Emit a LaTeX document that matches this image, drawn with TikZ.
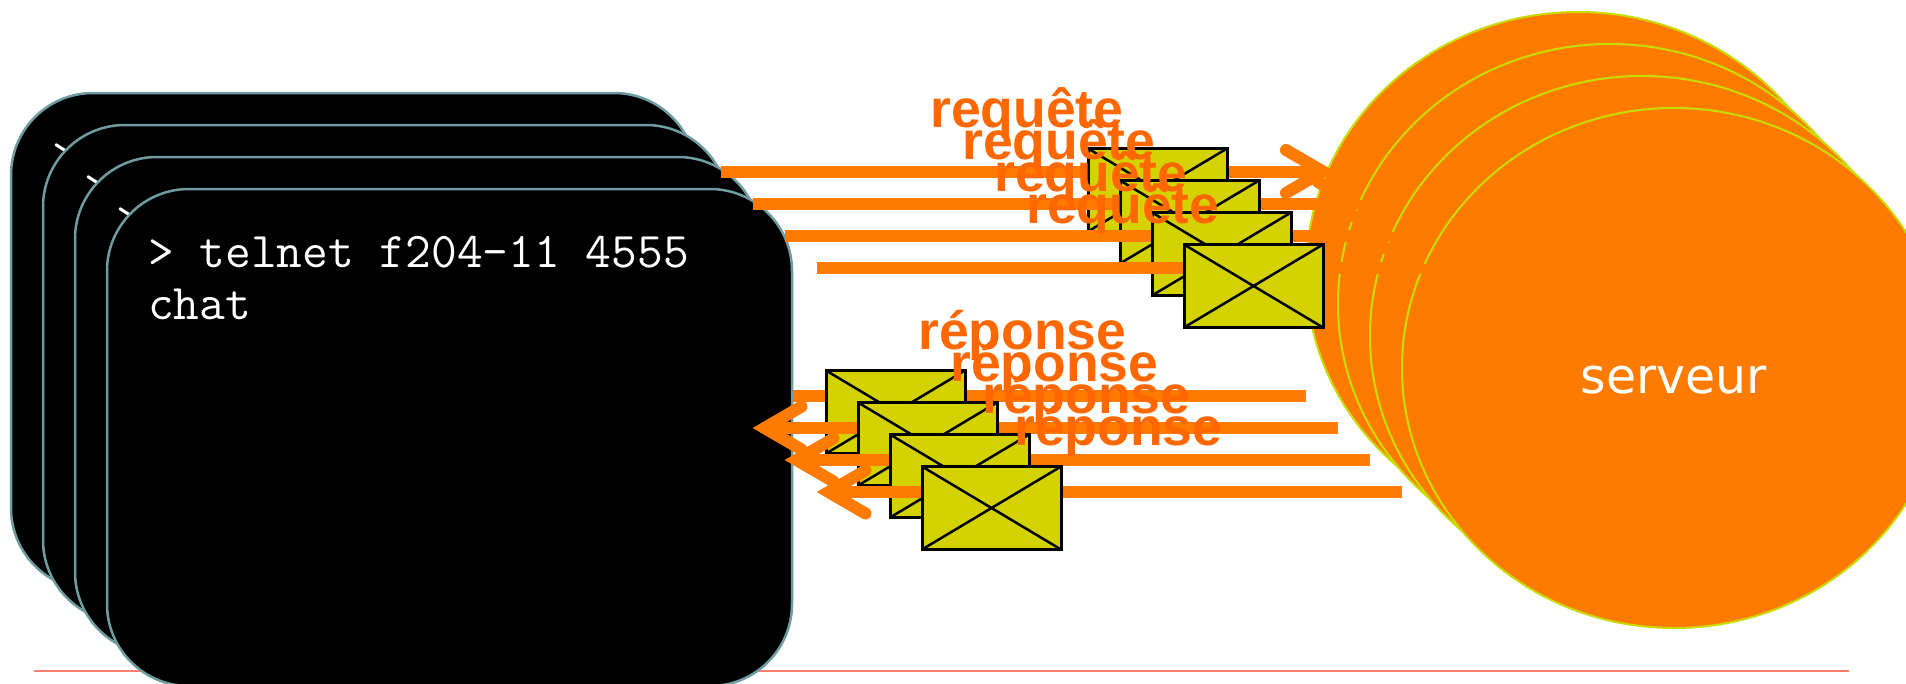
\documentclass[tikz,border=0pt]{standalone}
\usepackage{fontspec}
\setmonofont{Latin Modern Mono}
\newfontfamily\labfont{Liberation Sans}
\newfontfamily\srvfont{DejaVu Sans}
\usetikzlibrary{shapes.geometric}
\definecolor{termedge}{HTML}{6F9C9E}
\definecolor{srvfill}{HTML}{FF7B00}
\definecolor{srvedge}{HTML}{C8DC00}
\definecolor{envfill}{HTML}{D4D200}
\definecolor{labcol}{HTML}{FF6800}
\definecolor{rulecol}{HTML}{FF8070}
\tikzset{
  termbox/.style={draw=termedge,line width=2.5pt,fill=black,rounded corners=82pt,minimum width=685pt,minimum height=497pt,inner sep=0pt},
  termtext/.style={anchor=base west,inner sep=0pt,text=white,font=\ttfamily\fontsize{50}{50}\selectfont},
  srvbox/.style={ellipse,draw=srvedge,line width=2pt,fill=srvfill,minimum width=544pt,minimum height=520pt,inner sep=0pt},
  envbox/.style={draw=black,line width=3pt,fill=envfill,minimum width=139pt,minimum height=83pt,inner sep=0pt,
    path picture={\draw[black,line width=2.5pt] (path picture bounding box.north west) -- (path picture bounding box.south east) (path picture bounding box.north east) -- (path picture bounding box.south west);}},
  msglabel/.style={anchor=base west,inner sep=0pt,text=labcol,font=\labfont\bfseries\fontsize{53.5}{53.5}\selectfont},
  flowline/.style={draw=srvfill,line width=12pt},
  flowbarb/.style={draw=srvfill,line width=12pt,line cap=round,miter limit=10},
  rulerline/.style={draw=rulecol,line width=1.6pt}
}
\newcommand{\msggroup}[2]{%
  \pgfmathsetmacro{\o}{32*#1}
  \coordinate (rqs#2) at ({721+\o},{171.5+\o});
  \coordinate (rqt#2) at ({1323+\o},{171.5+\o});
  \coordinate (rss#2) at ({1306+\o},{396+\o});
  \coordinate (rst#2) at ({732.5+\o},{396+\o});
  \draw[flowline] (rqs#2) -- (rqt#2);
  \draw[flowbarb] ([shift={(-37,-21.5)}]rqt#2) -- (rqt#2) -- ([shift={(-37,21.5)}]rqt#2);
  \node[envbox] (rqe#2) at ({1157.5+\o},{190+\o}) {};
  \node[msglabel] (rql#2) at ({930+\o},{127+\o}) {requête};
  \draw[flowline] (rss#2) -- (rst#2);
  \draw[flowbarb] ([shift={(37,-21.5)}]rst#2) -- (rst#2) -- ([shift={(37,21.5)}]rst#2);
  \node[envbox] (rse#2) at ({895.5+\o},{412+\o}) {};
  \node[msglabel] (rsl#2) at ({918+\o},{349+\o}) {réponse};
}
\begin{document}
\begin{tikzpicture}[x=1pt,y=-1pt]
\clip (0,0) rectangle (1906,683);
\fill[white] (0,0) rectangle (1906,683);
\coordinate (ruleA) at (34,671);
\coordinate (ruleB) at (1849,671);
\draw[rulerline] (ruleA) -- (ruleB);
% terminals behind the messages
\node[termbox] (t1) at (353.5,341.5) {};
\node[termtext] (p1) at (52,171.5) {>};
\node[termbox] (t2) at (385.5,373.5) {};
\node[termtext] (p2) at (84,203.5) {>};
\node[termbox] (t3) at (417.5,405.5) {};
\node[termtext] (p3) at (116,235.5) {>};
% servers
\node[srvbox] (s1) at (1578,272) {};
\node[srvbox] (s2) at (1610,304) {};
\node[srvbox] (s3) at (1642,336) {};
\node[srvbox] (s4) at (1674,368) {};
\node[anchor=base,inner sep=0pt,text=white,font=\srvfont\fontsize{49}{49}\selectfont] (srvlabel) at (1674,393) {serveur};
\msggroup{0}{1}
% front terminal
\node[termbox] (t4) at (449.5,437.5) {};
\node[termtext] (p4) at (148,267.5) {> telnet f204-11 4555};
\node[termtext] (chat) at (148,319) {chat};
\msggroup{1}{2}
\msggroup{2}{3}
\msggroup{3}{4}
\end{tikzpicture}
\end{document}
